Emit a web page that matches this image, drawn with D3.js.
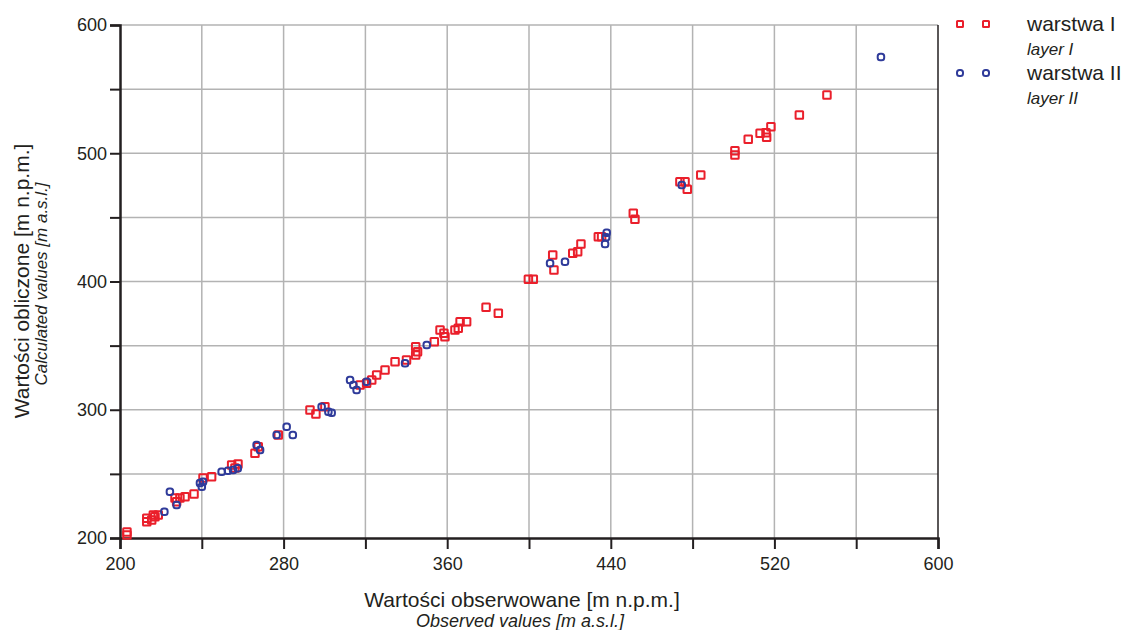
<!DOCTYPE html>
<html>
<head>
<meta charset="utf-8">
<script src="https://cdn.jsdelivr.net/npm/d3@7"></script>
<style>
  body { margin: 0; background: #fff; }
  svg text { font-family: "Liberation Sans", Arial, sans-serif; fill: #231f20; }
</style>
</head>
<body>
<div class="chart"></div>
<script>
// observed [x] and calculated [y] values, m a.s.l.
var layer1Obs = [203.4, 203.4, 213.1, 213.1, 215.5, 217.1, 218.7, 216.3, 226.9, 227.7, 229.3, 231.8, 236.2,
  240.6, 244.8, 254.6, 257.7, 256.2, 266.0, 267.6, 277.4, 292.9, 295.8, 300.2, 317.4, 320.6, 323.1, 325.5,
  329.6, 334.5, 340.1, 344.6, 345.5, 344.6, 353.7, 356.5, 358.4, 358.9, 363.8, 365.4, 366.3, 369.5, 379.0,
  385.0, 399.7, 402.1, 411.6, 412.2, 421.4, 423.8, 425.4, 433.9, 435.5, 451.0, 451.8, 473.8, 476.3, 477.4,
  484.0, 500.7, 500.7, 507.2, 513.0, 515.9, 516.2, 518.3, 532.2, 545.7];
var layer1Calc = [204.7, 202.3, 212.7, 215.4, 214.0, 216.6, 217.9, 217.9, 231.2, 228.3, 231.2, 232.2, 234.3,
  246.8, 247.8, 256.9, 257.7, 254.6, 266.0, 271.2, 280.3, 299.8, 296.7, 302.4, 319.3, 320.6, 323.2, 327.1,
  331.0, 337.5, 338.8, 342.7, 345.3, 349.2, 353.1, 362.2, 359.6, 357.0, 362.2, 363.5, 368.7, 368.7, 379.9,
  375.2, 401.7, 401.7, 420.7, 409.0, 422.0, 423.2, 429.2, 434.9, 434.9, 453.2, 448.5, 477.8, 477.8, 471.9,
  483.0, 502.0, 498.6, 510.9, 515.6, 516.0, 512.4, 520.7, 529.8, 545.4];

var layer2Obs = [221.7, 224.4, 227.7, 239.1, 240.0, 240.6, 249.7, 252.8, 255.3, 257.6, 268.5, 266.8, 276.6,
  281.5, 284.5, 298.6, 301.9, 303.5, 312.5, 314.1, 315.7, 320.6, 339.4, 350.0, 410.3, 417.6, 438.0, 437.7,
  437.2, 474.7, 572.1];
var layer2Calc = [220.5, 236.1, 225.7, 242.9, 240.0, 243.9, 251.7, 252.5, 253.0, 254.3, 268.6, 272.5, 280.3,
  286.8, 280.3, 302.4, 298.5, 297.7, 323.2, 319.3, 315.4, 321.9, 336.2, 350.5, 414.2, 415.4, 438.0, 434.5,
  429.2, 475.2, 575.1];

var xTicks = [200, 240, 280, 320, 360, 400, 440, 480, 520, 560, 600];
var yTicks = [200, 250, 300, 350, 400, 450, 500, 550, 600];

var red = '#ea1f2b';
var blue = '#2f3b9a';

var margin = { top: 25, right: 186, bottom: 92, left: 120 };
var width = 1124 - margin.left - margin.right;
var height = 630 - margin.top - margin.bottom;

var root = d3.select('.chart')
  .append('svg')
    .attr('width', 1124)
    .attr('height', 630);

var svg = root.append('g')
    .attr('transform', 'translate(' + margin.left + ', ' + margin.top + ')');

var xScale = d3.scaleLinear().domain([200, 600]).range([0, width]);
var yScale = d3.scaleLinear().domain([200, 600]).range([height, 0]);

// grid
svg.append('g')
  .selectAll('line')
  .data(xTicks.slice(1, -1))
  .enter().append('line')
    .attr('x1', d => xScale(d)).attr('x2', d => xScale(d))
    .attr('y1', 0).attr('y2', height)
    .style('stroke', '#b3b3b3').style('stroke-width', 1.5);
svg.append('g')
  .selectAll('line')
  .data(yTicks.slice(1))
  .enter().append('line')
    .attr('x1', 0).attr('x2', width)
    .attr('y1', d => yScale(d)).attr('y2', d => yScale(d))
    .style('stroke', '#b3b3b3').style('stroke-width', 1.5);

// right border
svg.append('line')
  .attr('x1', width).attr('x2', width).attr('y1', 0).attr('y2', height)
  .style('stroke', '#231f20').style('stroke-width', 1.5);

// axes
var xAxis = svg.append('g')
  .attr('transform', `translate(0, ${height})`)
  .call(d3.axisBottom(xScale).tickValues(xTicks).tickSize(11).tickPadding(8)
    .tickFormat(d => ((d - 200) % 80 === 0 ? d : '')));
var yAxis = svg.append('g')
  .call(d3.axisLeft(yScale).tickValues(yTicks).tickSize(10).tickPadding(3)
    .tickFormat(d => (d % 100 === 0 ? d : '')));

[xAxis, yAxis].forEach(function (a) {
  a.select('.domain').style('stroke', '#231f20').style('stroke-width', 2.5);
  a.selectAll('.tick line').style('stroke', '#231f20').style('stroke-width', 2);
  a.selectAll('.tick text')
    .style('font-family', '"Liberation Sans", Arial, sans-serif')
    .style('font-size', '18px')
    .style('fill', '#231f20');
});

// points
function squares(obs, calc, color, size, rx) {
  svg.append('g')
    .selectAll('rect')
    .data(obs.map((d, i) => [d, calc[i]]))
    .enter().append('rect')
      .attr('x', d => xScale(d[0]) - size / 2)
      .attr('y', d => yScale(d[1]) - size / 2)
      .attr('width', size)
      .attr('height', size)
      .attr('rx', rx)
      .style('fill', 'none')
      .style('stroke', color)
      .style('stroke-width', 2);
}
squares(layer1Obs, layer1Calc, red, 7.5, 0.5);
squares(layer2Obs, layer2Calc, blue, 6.5, 2.5);

// axis titles
root.append('text')
  .attr('x', 522).attr('y', 607)
  .attr('text-anchor', 'middle')
  .style('font-size', '21px')
  .text('Wartości obserwowane [m n.p.m.]');
root.append('text')
  .attr('x', 520).attr('y', 627)
  .attr('text-anchor', 'middle')
  .style('font-size', '18px')
  .style('font-style', 'italic')
  .text('Observed values [m a.s.l.]');

root.append('text')
  .attr('transform', 'translate(29, 281) rotate(-90)')
  .attr('text-anchor', 'middle')
  .style('font-size', '21px')
  .text('Wartości obliczone [m n.p.m.]');
root.append('text')
  .attr('transform', 'translate(47, 284) rotate(-90)')
  .attr('text-anchor', 'middle')
  .style('font-size', '17px')
  .style('font-style', 'italic')
  .text('Calculated values [m a.s.l.]');

// legend
var legend = [
  { name: 'warstwa I', sub: 'layer I', color: red, rx: 0.5, y: 24 },
  { name: 'warstwa II', sub: 'layer II', color: blue, rx: 2.5, y: 73 }
];
var lg = root.append('g');
legend.forEach(function (l) {
  [960, 986].forEach(function (x) {
    lg.append('rect')
      .attr('x', x - 3).attr('y', l.y - 3)
      .attr('width', 6).attr('height', 6)
      .attr('rx', l.rx)
      .style('fill', 'none')
      .style('stroke', l.color)
      .style('stroke-width', 2);
  });
  lg.append('text')
    .attr('x', 1027).attr('y', l.y + 7)
    .style('font-size', '21px')
    .text(l.name);
  lg.append('text')
    .attr('x', 1027).attr('y', l.y + 31)
    .style('font-size', '17px')
    .style('font-style', 'italic')
    .text(l.sub);
});
</script>
</body>
</html>
